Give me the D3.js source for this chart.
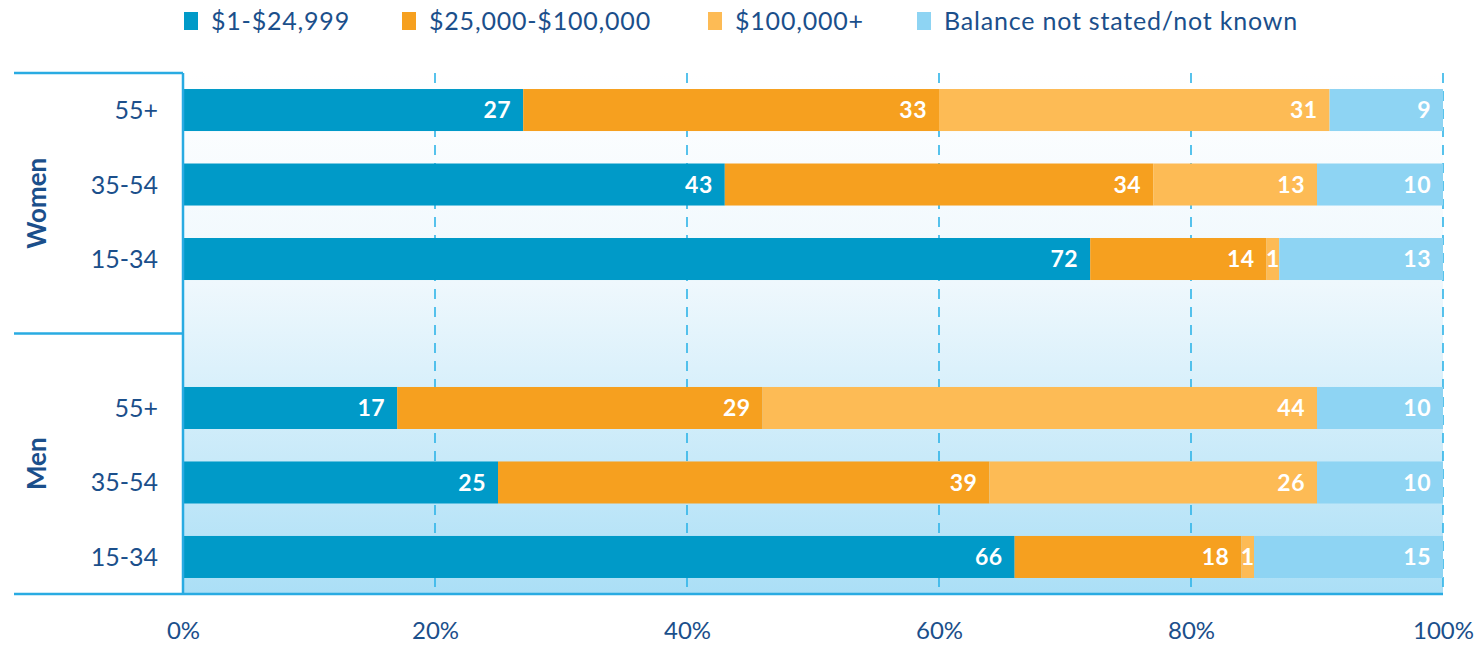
<!DOCTYPE html>
<html>
<head>
<meta charset="utf-8">
<script src="https://cdn.jsdelivr.net/npm/d3@7"></script>
<style>
  body { margin: 0; background: #fff; }
  text { font-family: Lato, "Open Sans", sans-serif; }
</style>
</head>
<body>
<script>
const width = 1484,
    height = 645;

const groups = ['Women', 'Men'];
const ages = ['55+', '35-54', '15-34'];
const seriesNames = ['$1-$24,999', '$25,000-$100,000', '$100,000+', 'Balance not stated/not known'];
const colors = ['#009ac8', '#f6a01f', '#fdbb55', '#8ed4f3'];

// rows: Women 55+, 35-54, 15-34, Men 55+, 35-54, 15-34
const under25k = [27, 43, 72, 17, 25, 66];
const mid = [33, 34, 14, 29, 39, 18];
const over100k = [31, 13, 1, 44, 26, 1];
const notKnown = [9, 10, 13, 10, 10, 15];
const xTicks = [0, 20, 40, 60, 80, 100];

const values = [under25k, mid, over100k, notKnown];

const rows = [];
groups.forEach((g, gi) => {
    ages.forEach((a, ai) => {
        const i = gi * ages.length + ai;
        let x0 = 0;
        const segs = values.map((s, si) => {
            const seg = {series: si, v: s[i], x0: x0, x1: x0 + s[i]};
            x0 += s[i];
            return seg;
        });
        rows.push({key: g + '|' + a, group: g, age: a, segs: segs});
    });
});

const rowKeys = rows.slice(0, 3).map(r => r.key)
    .concat(['gap'])
    .concat(rows.slice(3).map(r => r.key));

const plotTop = 73, plotBottom = 594, plotLeft = 183, plotRight = 1443;

const x = d3.scaleLinear().domain([0, 100]).range([plotLeft, plotRight]);
const y = d3.scaleBand().domain(rowKeys).range([plotTop, plotBottom])
    .paddingInner(0.436).paddingOuter(0.215);

const svg = d3.select('body').append('svg')
    .attr('width', width)
    .attr('height', height);

const defs = svg.append('defs');
const grad = defs.append('linearGradient')
    .attr('id', 'bg')
    .attr('x1', 0).attr('y1', 0).attr('x2', 0).attr('y2', 1);
grad.append('stop').attr('offset', '0%').attr('stop-color', '#ffffff');
grad.append('stop').attr('offset', '40%').attr('stop-color', '#eff8fd');
grad.append('stop').attr('offset', '100%').attr('stop-color', '#abdff6');

// plot background
svg.append('rect')
    .attr('x', plotLeft)
    .attr('y', plotTop)
    .attr('width', plotRight - plotLeft)
    .attr('height', plotBottom - plotTop)
    .attr('fill', 'url(#bg)');

// dashed grid
svg.append('g').selectAll('line')
    .data(xTicks.filter(d => d > 0))
    .enter()
    .append('line')
    .attr('x1', d => x(d))
    .attr('x2', d => x(d))
    .attr('y1', plotTop)
    .attr('y2', plotBottom)
    .attr('stroke', '#2fb4e8')
    .attr('stroke-width', 1.6)
    .attr('stroke-dasharray', '10,8');

// bars
const rowG = svg.append('g').selectAll('g.row')
    .data(rows)
    .enter()
    .append('g')
    .attr('class', 'row')
    .attr('transform', d => 'translate(0,' + y(d.key) + ')');

rowG.selectAll('rect')
    .data(d => d.segs)
    .enter()
    .append('rect')
    .attr('x', d => x(d.x0))
    .attr('width', d => x(d.x1) - x(d.x0))
    .attr('y', 0)
    .attr('height', y.bandwidth())
    .attr('fill', d => colors[d.series]);

rowG.selectAll('text')
    .data(d => d.segs)
    .enter()
    .append('text')
    .attr('x', d => {
        const w = x(d.x1) - x(d.x0);
        return w < 30 ? (x(d.x0) + x(d.x1)) / 2 : x(d.x1) - 12;
    })
    .attr('text-anchor', d => (x(d.x1) - x(d.x0)) < 30 ? 'middle' : 'end')
    .attr('y', y.bandwidth() / 2)
    .attr('dy', '0.36em')
    .attr('fill', '#fff')
    .attr('font-weight', 'bold')
    .attr('font-size', 23)
    .attr('letter-spacing', 0.5)
    .text(d => d.v);

// age labels
svg.append('g').selectAll('text')
    .data(rows)
    .enter()
    .append('text')
    .attr('x', 158)
    .attr('y', d => y(d.key) + y.bandwidth() / 2)
    .attr('dy', '0.36em')
    .attr('text-anchor', 'end')
    .attr('fill', '#1b4f8b')
    .attr('font-size', 25)
    .text(d => d.age);

// bracket lines
const sepY = y('gap') + y.bandwidth() / 2;
const lineColor = '#29abe2';
[plotTop, sepY].forEach(yy => {
    svg.append('line')
        .attr('x1', 14).attr('x2', plotLeft)
        .attr('y1', yy).attr('y2', yy)
        .attr('stroke', lineColor).attr('stroke-width', 2.5);
});
svg.append('line')
    .attr('x1', 14).attr('x2', plotRight)
    .attr('y1', plotBottom).attr('y2', plotBottom)
    .attr('stroke', lineColor).attr('stroke-width', 2.5);
svg.append('line')
    .attr('x1', plotLeft).attr('x2', plotLeft)
    .attr('y1', plotTop).attr('y2', plotBottom)
    .attr('stroke', lineColor).attr('stroke-width', 2.5);

// group labels
const groupSpans = [[plotTop, sepY], [sepY, plotBottom]];
svg.append('g').selectAll('text')
    .data(groups)
    .enter()
    .append('text')
    .attr('transform', (d, i) => 'translate(37,' + (groupSpans[i][0] + groupSpans[i][1]) / 2 + ') rotate(-90)')
    .attr('text-anchor', 'middle')
    .attr('dy', '0.36em')
    .attr('fill', '#1b4f8b')
    .attr('font-weight', 'bold')
    .attr('font-size', 26)
    .text(d => d);

// x axis
const xAxis = d3.axisBottom(x)
    .tickValues(xTicks)
    .tickSize(0)
    .tickPadding(28)
    .tickFormat(d => d + '%');

const axisG = svg.append('g')
    .attr('transform', 'translate(0,' + plotBottom + ')')
    .call(xAxis);
axisG.select('.domain').remove();
axisG.selectAll('text')
    .attr('fill', '#1b4f8b')
    .attr('font-size', 24)
    .style('font-family', 'Lato, sans-serif');

// legend
const legendX = [184, 402, 708, 917];
const legend = svg.append('g').selectAll('g')
    .data(seriesNames)
    .enter()
    .append('g')
    .attr('transform', (d, i) => 'translate(' + legendX[i] + ',12)');
legend.append('rect')
    .attr('width', 14)
    .attr('height', 18)
    .attr('fill', (d, i) => colors[i]);
legend.append('text')
    .attr('x', 27)
    .attr('y', 9)
    .attr('dy', '0.36em')
    .attr('fill', '#1b4f8b')
    .attr('font-size', 25)
    .attr('letter-spacing', 0.8)
    .text(d => d);
</script>
</body>
</html>
